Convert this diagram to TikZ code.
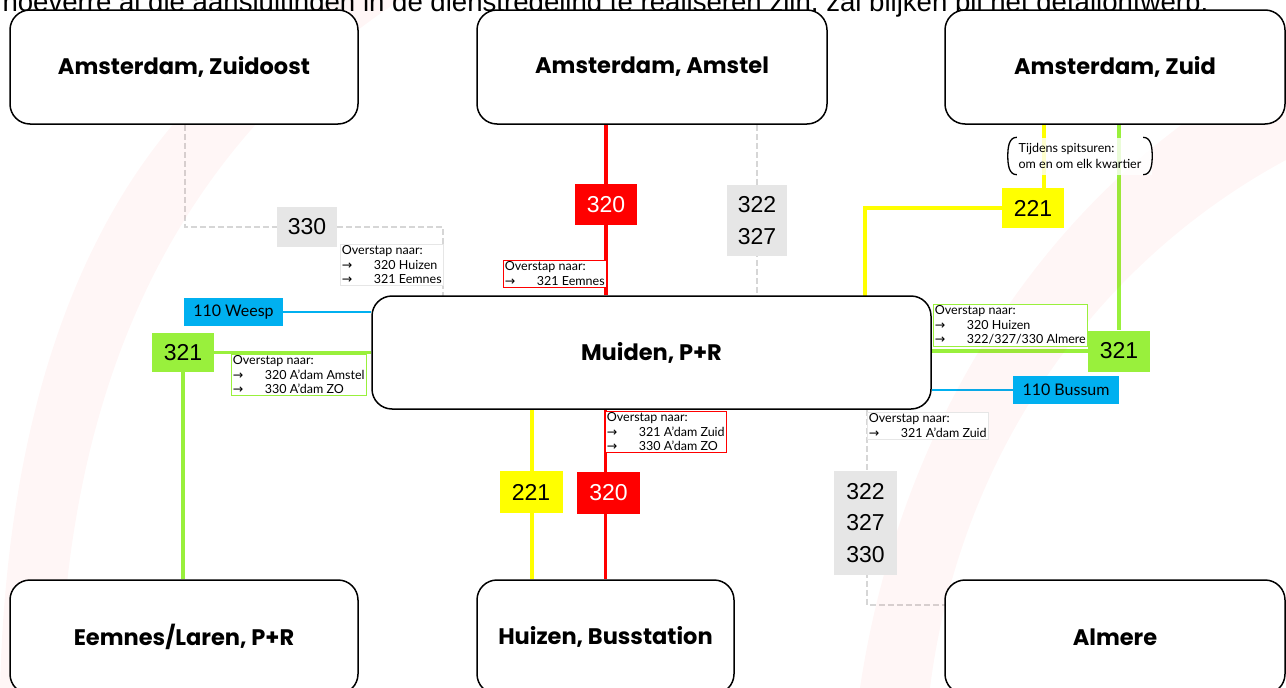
\documentclass[tikz,border=0pt]{standalone}
\usepackage{fontspec}
\setmainfont{Liberation Sans}
\newfontfamily\latofont{Lato}
\newfontfamily\titelfont{Poppins}
\newfontfamily\arrfont{DejaVu Sans}
\usetikzlibrary{backgrounds}

\definecolor{lijnrood}{HTML}{FF0000}
\definecolor{lijngeel}{HTML}{FFFF00}
\definecolor{lijngroen}{HTML}{99F03C}
\definecolor{lijnblauw}{HTML}{00B0F0}
\definecolor{lijngrijs}{HTML}{E6E6E6}
\definecolor{stippel}{HTML}{D6D6D6}

\newcommand{\pijl}{\makebox[32pt][l]{\arrfont →}}

\begin{document}
\begin{tikzpicture}[x=1pt, y=-1pt,
    station/.style={draw, line width=1.5pt, rounded corners=20pt, fill=white,
        font=\titelfont\bfseries\fontsize{22.5}{26}\selectfont},
    halte/.style={minimum width=62pt, minimum height=41pt, inner sep=0pt,
        align=center, font=\fontsize{23}{31.5}\selectfont},
    overstap/.style={anchor=north west, inner sep=1.5pt, align=left, fill=white,
        line width=0.8pt, font=\latofont\fontsize{12.5}{14.5}\selectfont},
    bus/.style={line width=3.5pt},
    stip/.style={stippel, line width=1.5pt, dash pattern=on 6pt off 3pt}]
    \useasboundingbox (0,0) rectangle (1286,688);
    \clip (0,0) rectangle (1286,688);

    % watermerk
    \fill[lijnrood, opacity=0.035] (0,688) .. controls (10,300) and (150,90) .. (330,0)
        -- (400,0) .. controls (220,120) and (70,320) .. (60,688) -- cycle;
    \fill[lijnrood, opacity=0.035] (860,688) .. controls (900,420) and (1050,180) .. (1286,60)
        -- (1286,160) .. controls (1100,260) and (960,450) .. (930,688) -- cycle;

    \node[anchor=base west, font=\fontsize{27.6}{28}\selectfont] (kop) at (-1,12)
        {hoeverre al die aansluitingen in de dienstregeling te realiseren zijn, zal blijken bij het detailontwerp.};

    % haltes
    \node[station, minimum width=348pt, minimum height=114pt] (zo) at (184,67) {Amsterdam, Zuidoost};
    \node[station, minimum width=350pt, minimum height=114pt] (amstel) at (652,67) {Amsterdam, Amstel};
    \node[station, minimum width=340pt, minimum height=114pt] (zuid) at (1115,67) {Amsterdam, Zuid};
    \node[station, minimum width=559pt, minimum height=113pt] (muiden) at (651.5,352.5) {Muiden, P+R};
    \node[station, minimum width=348pt, minimum height=114pt] (eemnes) at (184,637) {Eemnes/Laren, P+R};
    \node[station, minimum width=257pt, minimum height=114pt] (huizen) at (605.5,637) {Huizen, Busstation};
    \node[station, minimum width=340pt, minimum height=114pt] (almere) at (1115,637) {Almere};

    % lijnnummers
    \node[halte, fill=lijngrijs, minimum width=60pt, minimum height=40pt] (l330) at (307,227) {330};
    \node[halte, fill=lijnrood, text=white] (l320a) at (606,204.5) {320};
    \node[halte, fill=lijngrijs, minimum width=60pt, minimum height=71pt] (l322a) at (757,220.5) {322\\327};
    \node[halte, fill=lijngeel, minimum height=40pt] (l221a) at (1033,208) {221};
    \node[halte, fill=lijngroen] (l321r) at (1119,351) {321};
    \node[halte, fill=lijnblauw, minimum width=106pt, minimum height=28pt,
        font=\latofont\fontsize{16}{18}\selectfont] (l110b) at (1066,390) {110 Bussum};
    \node[halte, fill=lijnblauw, minimum width=99pt, minimum height=28pt,
        font=\latofont\fontsize{16}{18}\selectfont] (l110w) at (233.5,312) {110 Weesp};
    \node[halte, fill=lijngroen, minimum height=39pt] (l321l) at (183,352.5) {321};
    \node[halte, fill=lijngeel, minimum width=63pt, minimum height=42pt] (l221b) at (531,492) {221};
    \node[halte, fill=lijnrood, text=white, minimum width=63pt, minimum height=42pt] (l320b) at (608.5,493) {320};
    \node[halte, fill=lijngrijs, minimum width=63pt, minimum height=104pt] (l322b) at (865.5,523) {322\\327\\330};

    % overstappen
    \node[overstap, draw=lijngrijs] (o330) at (340,244)
        {Overstap naar:\\\pijl 320 Huizen\\\pijl 321 Eemnes};
    \node[overstap, draw=lijnrood] (o320a) at (503,260)
        {Overstap naar:\\\pijl 321 Eemnes};
    \node[overstap, draw=lijngroen] (o321r) at (933,304)
        {Overstap naar:\\\pijl 320 Huizen\\\pijl 322/327/330 Almere};
    \node[overstap, draw=lijngroen] (o321l) at (231,354)
        {Overstap naar:\\\pijl 320 A’dam Amstel\\\pijl 330 A’dam ZO};
    \node[overstap, draw=lijnrood] (o320b) at (605,411)
        {Overstap naar:\\\pijl 321 A’dam Zuid\\\pijl 330 A’dam ZO};
    \node[overstap, draw=lijngrijs] (o322b) at (867,412)
        {Overstap naar:\\\pijl 321 A’dam Zuid};

    \node[align=left, fill=white, fill opacity=0.8, text opacity=1, inner sep=1pt,
        minimum width=144pt, minimum height=37pt,
        font=\latofont\fontsize{12.5}{16}\selectfont] (spits) at (1080,156)
        {Tijdens spitsuren:\\om en om elk kwartier};
    \draw[line width=1.3pt] ([xshift=9pt]spits.north west) to[out=180, in=90] (spits.west)
        to[out=-90, in=180] ([xshift=9pt]spits.south west);
    \draw[line width=1.3pt] ([xshift=-9pt]spits.north east) to[out=0, in=90] (spits.east)
        to[out=-90, in=0] ([xshift=-9pt]spits.south east);

    \coordinate (k330) at (443,296);
    \coordinate (k221) at (865,296);
    \coordinate (k322) at (945,605);

    \begin{pgfonlayer}{background}
        \draw[stip] (zo.south -| 185,0) |- (l330.west);
        \draw[stip] (l330.east) -| (k330);
        \draw[stip] (amstel.south -| l322a) -- (muiden.north -| l322a);
        \draw[stip] (muiden.south -| 867,0) |- (k322);
        \draw[lijnrood, bus] (amstel.south -| l320a) -- (muiden.north -| l320a);
        \draw[lijnrood, bus] (muiden.south -| huizen.north) -- (huizen.north);
        \draw[lijngeel, bus] (zuid.south -| 1044,0) -- (l221a.north -| 1044,0);
        \draw[lijngeel, bus] (l221a.west) -| (k221);
        \draw[lijngeel, bus] (muiden.south -| 532,0) -- (huizen.north -| 532,0);
        \draw[lijngroen, bus] (zuid.south -| l321r) -- (l321r.north);
        \draw[lijngroen, bus] (l321r.west) -- (muiden.east |- l321r.west);
        \draw[lijngroen, bus] (l321l.east) -- (muiden.west |- l321l.east);
        \draw[lijngroen, bus] (l321l.south) -- (eemnes.north -| l321l.south);
        \draw[lijnblauw, line width=2pt] (muiden.east |- l110b.west) -- (l110b.west);
        \draw[lijnblauw, line width=2pt] (l110w.east) -- (muiden.west |- l110w.east);
    \end{pgfonlayer}
\end{tikzpicture}
\end{document}
